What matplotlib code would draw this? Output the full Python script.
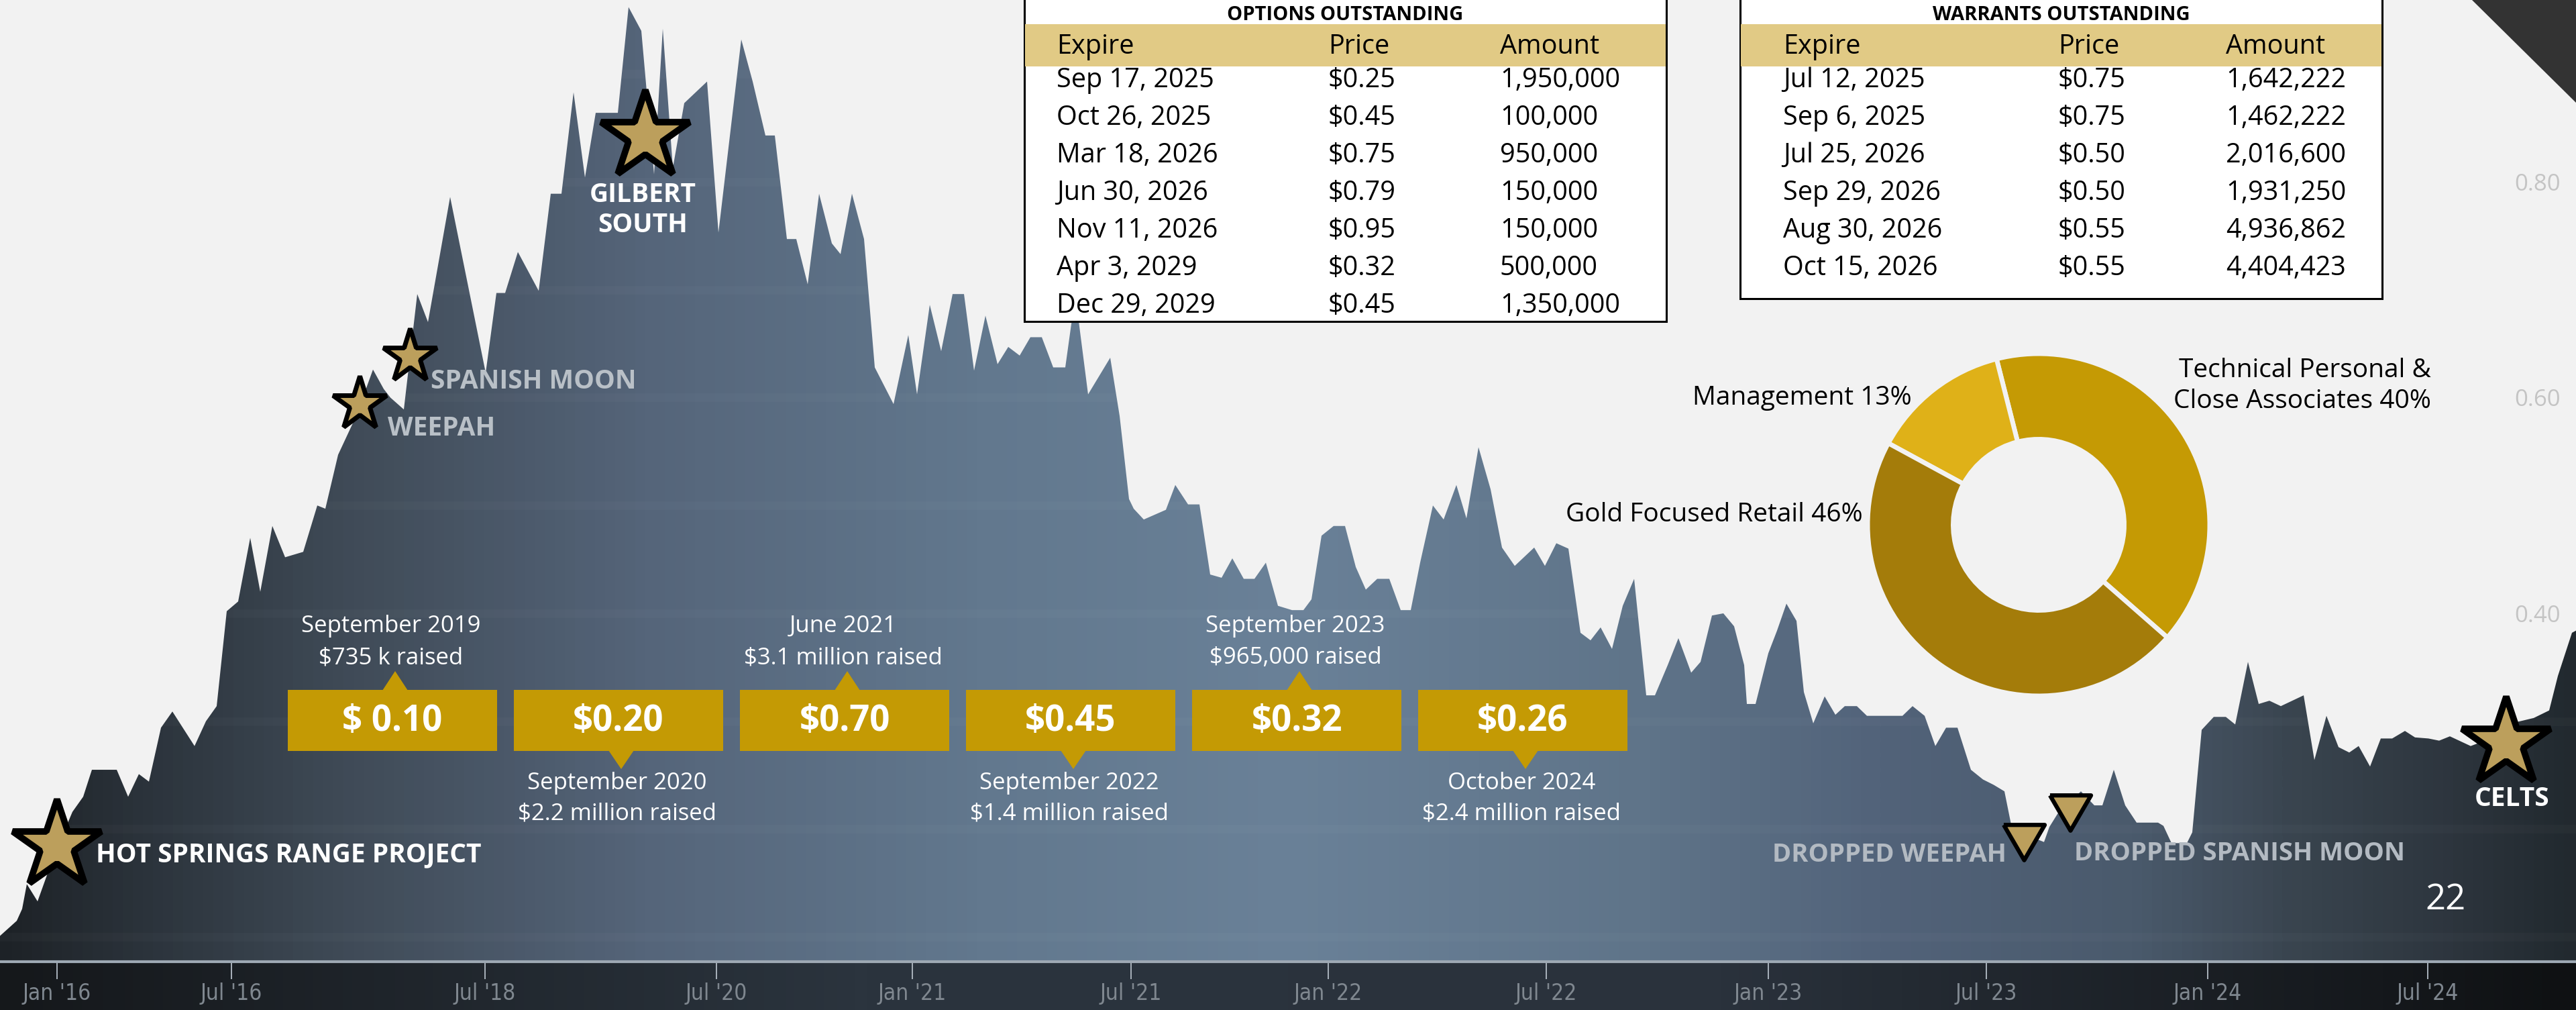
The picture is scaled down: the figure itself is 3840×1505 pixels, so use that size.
import numpy as np
import matplotlib.pyplot as plt
from matplotlib.colors import LinearSegmentedColormap
from matplotlib.patches import Rectangle, Polygon

plt.rcParams['font.family'] = ['Open Sans', 'DejaVu Sans']

# share price profile: position along the (uneven) time axis, price in $
pos = [0, 25, 33, 40, 56, 75, 95, 108, 124, 137, 174, 191, 207, 222, 240, 257, 290, 307, 323, 338,
       355, 373, 388, 406, 425, 452, 473, 485, 504, 531, 556, 572, 582, 602, 622, 638, 671, 724, 740, 753,
       772, 803, 821, 837, 855, 872, 888, 921, 937, 956, 975, 988, 1003, 1020, 1054, 1071, 1105, 1122, 1141, 1155,
       1173, 1187, 1204, 1221, 1240, 1253, 1270, 1288, 1304, 1332, 1354, 1367, 1386, 1403, 1420, 1437, 1452, 1469, 1487, 1503,
       1520, 1536, 1553, 1570, 1588, 1603, 1622, 1655, 1669, 1683, 1690, 1705, 1738, 1752, 1771, 1788, 1804, 1821, 1837, 1854,
       1870, 1887, 1905, 1926, 1943, 1955, 1970, 1988, 2005, 2021, 2036, 2053, 2071, 2088, 2103, 2117, 2136, 2152, 2171, 2186,
       2204, 2222, 2239, 2258, 2287, 2303, 2320, 2338, 2356, 2371, 2386, 2403, 2419, 2436, 2454, 2467, 2486, 2502, 2521, 2535,
       2552, 2569, 2585, 2600, 2604, 2617, 2636, 2649, 2663, 2678, 2689, 2703, 2720, 2736, 2750, 2768, 2783, 2836, 2851, 2869,
       2885, 2901, 2918, 2938, 2956, 2972, 2988, 2999, 3031, 3047, 3055, 3067, 3102, 3122, 3134, 3151, 3168, 3185, 3217, 3225,
       3237, 3260, 3268, 3282, 3300, 3318, 3332, 3351, 3367, 3383, 3400, 3434, 3450, 3468, 3486, 3502, 3516, 3533, 3549, 3566,
       3585, 3600, 3620, 3636, 3652, 3683, 3700, 3720, 3750, 3777, 3800, 3813, 3834, 3840]
price = [0.101, 0.115, 0.126, 0.149, 0.133, 0.166, 0.197, 0.216, 0.230, 0.255, 0.255, 0.230, 0.251, 0.244, 0.294, 0.309, 0.277, 0.300, 0.314, 0.402,
         0.411, 0.470, 0.420, 0.481, 0.452, 0.457, 0.500, 0.497, 0.547, 0.583, 0.626, 0.608, 0.600, 0.589, 0.696, 0.670, 0.786, 0.623, 0.697, 0.697,
         0.735, 0.699, 0.789, 0.789, 0.883, 0.804, 0.864, 0.864, 0.962, 0.940, 0.807, 0.942, 0.813, 0.873, 0.893, 0.753, 0.932, 0.893, 0.843, 0.843,
         0.747, 0.747, 0.705, 0.789, 0.743, 0.733, 0.789, 0.747, 0.628, 0.594, 0.658, 0.603, 0.686, 0.643, 0.696, 0.696, 0.625, 0.676, 0.631, 0.647,
         0.639, 0.656, 0.656, 0.628, 0.628, 0.695, 0.603, 0.637, 0.583, 0.506, 0.497, 0.487, 0.496, 0.519, 0.501, 0.501, 0.436, 0.433, 0.451, 0.432,
         0.432, 0.447, 0.407, 0.403, 0.403, 0.413, 0.472, 0.481, 0.481, 0.443, 0.422, 0.432, 0.432, 0.403, 0.403, 0.447, 0.500, 0.487, 0.519, 0.488,
         0.554, 0.515, 0.461, 0.444, 0.461, 0.444, 0.465, 0.460, 0.382, 0.375, 0.387, 0.367, 0.407, 0.432, 0.324, 0.324, 0.352, 0.377, 0.345, 0.355,
         0.398, 0.400, 0.388, 0.352, 0.316, 0.316, 0.363, 0.384, 0.409, 0.393, 0.327, 0.298, 0.323, 0.306, 0.314, 0.314, 0.305, 0.305, 0.314, 0.305,
         0.277, 0.294, 0.294, 0.255, 0.246, 0.241, 0.235, 0.201, 0.192, 0.188, 0.202, 0.214, 0.235, 0.222, 0.222, 0.255, 0.222, 0.206, 0.206, 0.203,
         0.187, 0.187, 0.197, 0.292, 0.304, 0.304, 0.297, 0.355, 0.316, 0.319, 0.314, 0.324, 0.264, 0.305, 0.276, 0.271, 0.277, 0.258, 0.284, 0.284,
         0.291, 0.285, 0.284, 0.282, 0.286, 0.277, 0.281, 0.287, 0.299, 0.303, 0.310, 0.342, 0.382, 0.384]

tick_pos = [85, 345, 723, 1068, 1360, 1686, 1980, 2305, 2636, 2961, 3291, 3619]
tick_labels = ["Jan '16", "Jul '16", "Jul '18", "Jul '20", "Jan '21", "Jul '21",
               "Jan '22", "Jul '22", "Jan '23", "Jul '23", "Jan '24", "Jul '24"]
price_ticks = [0.20, 0.40, 0.60, 0.80]

# project milestones
star_names = ['HOT SPRINGS RANGE PROJECT', 'WEEPAH', 'SPANISH MOON', 'GILBERT\nSOUTH', 'CELTS']
star_pos = [85, 536, 611, 962, 3736]
star_price = [0.185, 0.594, 0.638, 0.842, 0.280]
drop_names = ['DROPPED WEEPAH', 'DROPPED SPANISH MOON']
drop_pos = [3017, 3086]
drop_price = [0.188, 0.215]

# financings
raise_price = ['$ 0.10', '$0.20', '$0.70', '$0.45', '$0.32', '$0.26']
raise_date = ['September 2019', 'September 2020', 'June 2021',
              'September 2022', 'September 2023', 'October 2024']
raise_amount = ['$735 k raised', '$2.2 million raised', '$3.1 million raised',
                '$1.4 million raised', '$965,000 raised', '$2.4 million raised']

# tables
opt_expire = ['Sep 17, 2025', 'Oct 26, 2025', 'Mar 18, 2026', 'Jun 30, 2026',
              'Nov 11, 2026', 'Apr 3, 2029', 'Dec 29, 2029']
opt_price = ['$0.25', '$0.45', '$0.75', '$0.79', '$0.95', '$0.32', '$0.45']
opt_amount = ['1,950,000', '100,000', '950,000', '150,000', '150,000', '500,000', '1,350,000']
war_expire = ['Jul 12, 2025', 'Sep 6, 2025', 'Jul 25, 2026', 'Sep 29, 2026', 'Aug 30, 2026', 'Oct 15, 2026']
war_price = ['$0.75', '$0.75', '$0.50', '$0.50', '$0.55', '$0.55']
war_amount = ['1,642,222', '1,462,222', '2,016,600', '1,931,250', '4,936,862', '4,404,423']

# shareholders
holder_labels = ['Technical Personal &\nClose Associates 40%', 'Management 13%', 'Gold Focused Retail 46%']
holder_share = [40, 13, 46]
holder_colors = ['#c59a04', '#dfb118', '#a47c0a']

W, H = 3840, 1505
bg = '#f2f2f2'
ybot, ytop, base = 0.0323, 0.9686, 0.0771

fig = plt.figure(figsize=(W / 100, H / 100), dpi=100, facecolor=bg)
ax = fig.add_axes([0, 0, 1, 1])
ax.set_facecolor(bg)

# area with a horizontal colour gradient
area = ax.fill_between(pos, price, base, facecolor='none', edgecolor='none', zorder=2)
clip = area.get_paths()[0]
area_cmap = LinearSegmentedColormap.from_list('area', [
    (0, '#1d2227'), (0.05, '#2a323a'), (0.13, '#3f4a56'), (0.25, '#55657a'), (0.38, '#62788e'),
    (0.5, '#6a8198'), (0.64, '#5f7489'), (0.73, '#52637a'), (0.83, '#4a5a6c'), (0.89, '#3a4550'),
    (0.96, '#2c343c'), (1, '#22292f')])
im = ax.imshow(np.linspace(0, 1, 600)[np.newaxis, :], cmap=area_cmap, aspect='auto',
               extent=[0, W, base, ytop], zorder=2, interpolation='bilinear')
im.set_clip_path(clip, transform=ax.transData)
for g in np.arange(0.1, 0.95, 0.1):
    gl = ax.axhline(g, color='white', alpha=0.025, lw=9, zorder=3)
    gl.set_clip_path(clip, transform=ax.transData)

band_cmap = LinearSegmentedColormap.from_list('band', ['#15181b', '#2b343e', '#2a323c', '#0f1113'])
ax.imshow(np.linspace(0, 1, 600)[np.newaxis, :], cmap=band_cmap, aspect='auto',
          extent=[0, W, ybot, base], zorder=1)

ax.set_xlim(0, W)
ax.set_ylim(ybot, ytop)
for s in ['top', 'left', 'right']:
    ax.spines[s].set_visible(False)
ax.spines['bottom'].set_position(('data', base))
ax.spines['bottom'].set_color('#9ea9b4')
ax.spines['bottom'].set_linewidth(3)
ax.spines['bottom'].set_zorder(4)
ax.set_xticks(tick_pos, tick_labels)
ax.tick_params(axis='x', direction='out', length=19, width=1.4, color='#aab3bc',
               labelcolor='#7f878f', labelsize=24, pad=3)
for lbl in ax.get_xticklabels():
    lbl.set_fontfamily(['Liberation Sans Narrow', 'DejaVu Sans'])
    lbl.set_fontstretch('condensed')
ax.yaxis.tick_right()
ax.set_yticks(price_ticks, [f'{t:.2f}' for t in price_ticks])
ax.tick_params(axis='y', length=0, pad=-17, labelsize=25, labelcolor='#c4c4c4')
plt.setp(ax.get_yticklabels(), ha='right')
ax.get_yticklabels()[0].set_color('#232a31')

# milestone stars and drop markers
big = [True, False, False, True, True]
star_off = [(42, -10), (30, -26), (22, -27), (-3, -79), (6, -60)]
star_ha = ['left', 'left', 'left', 'center', 'center']
star_col = ['white', '#b9c0c7', '#b9c0c7', 'white', 'white']
for name, x, y, b, off, ha, c in zip(star_names, star_pos, star_price, big, star_off, star_ha, star_col):
    ax.plot(x, y, marker='*', ms=100 if b else 60, mfc='#bc9f5c', mec='black',
            mew=7 if b else 5, zorder=6)
    ax.annotate(name, (x, y), xytext=off, textcoords='offset points', ha=ha, va='center',
                color=c, fontsize=28, fontweight='bold', linespacing=1.2, zorder=7)

tri = [(-0.5, 0.43), (0.5, 0.43), (0, -0.43), (-0.5, 0.43)]
drop_off = [(-19, -14), (4, -44)]
drop_ha = ['right', 'left']
for name, x, y, off, ha in zip(drop_names, drop_pos, drop_price, drop_off, drop_ha):
    ax.plot(x, y, marker=tri, ms=44, mfc='#bc9f5c', mec='black', mew=4.5, zorder=6)
    ax.annotate(name, (x, y), xytext=off, textcoords='offset points', ha=ha, va='center',
                color='#b3bac2', fontsize=27.5, fontweight='bold', zorder=7)

# overlay in pixel units for slide furniture
ov = fig.add_axes([0, 0, 1, 1], facecolor='none')
ov.set_xlim(0, W)
ov.set_ylim(H, 0)
ov.axis('off')

gold = '#c49a04'
for i, (p, d, a) in enumerate(zip(raise_price, raise_date, raise_amount)):
    x0, y0, bw, bh = 429 + 337 * i, 1028, 312, 91
    px = x0 + 160
    ov.add_patch(Rectangle((x0, y0), bw, bh, facecolor=gold, edgecolor='none', zorder=3))
    if i % 2 == 0:
        ov.add_patch(Polygon([(px - 19, y0 + 1), (px + 19, y0 + 1), (px, y0 - 28)], facecolor=gold, zorder=3))
        ov.text(px - 6, 933, d, ha='center', va='center', color='white', fontsize=25)
        ov.text(px - 6, 980, a, ha='center', va='center', color='white', fontsize=25)
    else:
        ov.add_patch(Polygon([(px - 19, y0 + bh - 1), (px + 19, y0 + bh - 1), (px, y0 + bh + 27)], facecolor=gold, zorder=3))
        ov.text(px - 6, 1167, d, ha='center', va='center', color='white', fontsize=25)
        ov.text(px - 6, 1213, a, ha='center', va='center', color='white', fontsize=25)
    ov.text(x0 + bw / 2, y0 + bh / 2 + 2, p, ha='center', va='center', color='white',
            fontsize=38, fontweight='bold', zorder=4)


def draw_table(x0, x1, y1, title, cols, expire, prices, amounts):
    ov.add_patch(Rectangle((x0, -10), x1 - x0, y1 + 10, facecolor='white', edgecolor='black', lw=2.2, zorder=5))
    ov.add_patch(Rectangle((x0 + 1, 36), x1 - x0 - 2, 63, facecolor='#e1ca85', edgecolor='none', zorder=6))
    ov.text((x0 + x1) / 2, 30, title, ha='center', va='baseline', fontsize=21, fontweight='bold', zorder=7)
    for head, cx in zip(['Expire', 'Price', 'Amount'], cols):
        ov.text(cx, 70, head, ha='left', va='center', fontsize=28.5, zorder=7)
    for r, row in enumerate(zip(expire, prices, amounts)):
        for val, cx in zip(row, cols):
            ov.text(cx, 120 + 56 * r, val, ha='left', va='center', fontsize=28.5, zorder=7)


draw_table(1527, 2484, 479, 'OPTIONS OUTSTANDING', [1575, 1980, 2236], opt_expire, opt_price, opt_amount)
draw_table(2594, 3551, 445, 'WARRANTS OUTSTANDING', [2658, 3068, 3318], war_expire, war_price, war_amount)

# donut of share ownership
r = 255 * 1.05
axd = fig.add_axes([(3039 - r) / W, (H - 782 - r) / H, 2 * r / W, 2 * r / H])
axd.pie(holder_share, colors=holder_colors, startangle=-41.2, counterclock=True,
        wedgeprops=dict(width=0.5, edgecolor=bg, linewidth=5))
axd.set_xlim(-1.05, 1.05)
axd.set_ylim(-1.05, 1.05)
label_xy = [(3624, 575), (2850, 593), (2777, 767)]
for lab, (lx, ly) in zip(holder_labels, label_xy):
    ov.text(lx, ly, lab, ha='right', va='center', fontsize=28, linespacing=1.3, multialignment='right')

ov.add_patch(Polygon([(3685, 0), (W, 0), (W, 153)], facecolor='#333333', edgecolor='none'))
ov.text(3646, 1341, '22', ha='center', va='center', color='white', fontsize=38)

fig.savefig('out.png', dpi=100, facecolor=bg)
